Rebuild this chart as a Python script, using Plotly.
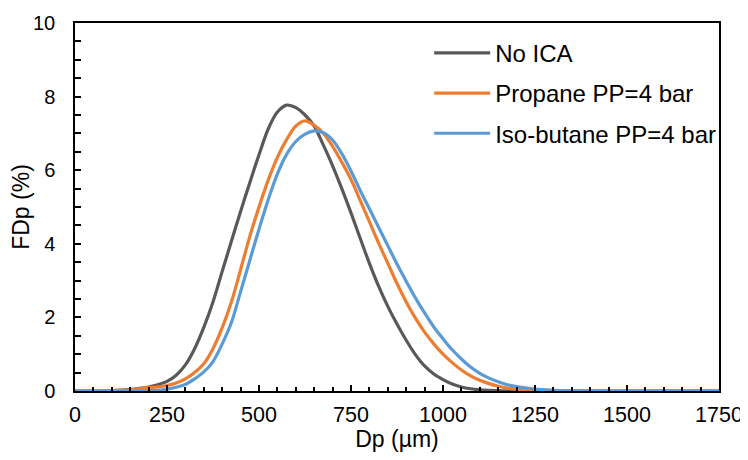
import plotly.graph_objects as go

dp = [0, 50, 100, 150, 175, 200, 225, 250, 275, 300, 325, 350, 375, 400, 425, 450, 475,
      500, 525, 550, 575, 600, 625, 650, 675, 700, 725, 750, 775, 800, 825, 850, 875,
      900, 925, 950, 975, 1000, 1025, 1050, 1075, 1100, 1125, 1150, 1175, 1200, 1250,
      1300, 1350, 1400, 1500, 1600, 1700, 1750]

no_ica = [0, 0, 0.01, 0.04, 0.07, 0.11, 0.17, 0.26, 0.43, 0.71, 1.15, 1.73, 2.42, 3.25,
          4.07, 4.88, 5.66, 6.42, 7.12, 7.58, 7.77, 7.70, 7.5, 7.2, 6.68, 6.12, 5.5, 4.84,
          4.15, 3.47, 2.85, 2.3, 1.82, 1.38, 0.99, 0.68, 0.46, 0.31, 0.19, 0.11, 0.06,
          0.03, 0.015, 0.01, 0.005, 0, 0, 0, 0, 0, 0, 0, 0, 0]

propane = [0, 0, 0.01, 0.03, 0.06, 0.09, 0.11, 0.15, 0.22, 0.33, 0.5, 0.74, 1.15, 1.72,
           2.42, 3.3, 4.2, 5.0, 5.73, 6.35, 6.83, 7.2, 7.34, 7.22, 7.0, 6.65, 6.22, 5.75,
           5.18, 4.6, 4.02, 3.47, 2.92, 2.42, 1.98, 1.6, 1.28, 1.0, 0.77, 0.57, 0.41,
           0.29, 0.2, 0.13, 0.08, 0.05, 0.02, 0.01, 0, 0, 0, 0, 0, 0]

isobutane = [0, 0, 0, 0, 0.005, 0.01, 0.02, 0.05, 0.1, 0.18, 0.33, 0.52, 0.8, 1.28, 1.86,
             2.7, 3.55, 4.4, 5.2, 5.9, 6.43, 6.78, 6.98, 7.07, 7.02, 6.82, 6.45, 5.98,
             5.45, 4.95, 4.45, 3.95, 3.45, 2.98, 2.53, 2.12, 1.74, 1.42, 1.12, 0.87, 0.65,
             0.48, 0.35, 0.25, 0.17, 0.12, 0.05, 0.02, 0.005, 0, 0, 0, 0, 0]

series = [("No ICA", no_ica, "#595959"),
          ("Propane PP=4 bar", propane, "#ED7D31"),
          ("Iso-butane PP=4 bar", isobutane, "#5B9BD5")]

x_ticks = [0, 250, 500, 750, 1000, 1250, 1500, 1750]
y_ticks = [0, 2, 4, 6, 8, 10]

FONT = "Liberation Sans, Arial, sans-serif"

fig = go.Figure()
for i, (name, vals, color) in enumerate(series):
    fig.add_trace(go.Scatter(
        x=dp, y=vals, name=name, mode="lines",
        line=dict(color=color, width=3.2, shape="spline", smoothing=0.9),
        legendgroup=f"g{i}",
    ))

fig.update_layout(
    width=740, height=444,
    margin=dict(l=67, r=29, t=15, b=61),
    paper_bgcolor="white", plot_bgcolor="white",
    font=dict(family=FONT, size=20, color="black"),
    showlegend=True,
    legend=dict(
        x=0.55, y=0.979, xanchor="left", yanchor="top",
        bgcolor="rgba(0,0,0,0)", font=dict(family=FONT, size=24, color="black"),
        tracegroupgap=6, itemwidth=56,
    ),
    xaxis=dict(
        range=[0, 1750], tickvals=x_ticks, ticktext=[str(v) for v in x_ticks],
        automargin=False, ticklabeloverflow="allow",
        showgrid=False, zeroline=False,
        showline=True, linecolor="black", linewidth=1.5, mirror=True,
        ticks="inside", ticklen=6, tickcolor="black", tickwidth=1.5,
        minor=dict(dtick=50, ticks="inside", ticklen=4, tickcolor="black", tickwidth=1.5),
        title=dict(text="Dp (µm)", font=dict(family=FONT, size=23), standoff=3),
        tickfont=dict(family=FONT, size=21.5), ticklabelstandoff=3,
    ),
    yaxis=dict(
        range=[0, 10], tickvals=y_ticks, ticktext=[str(v) for v in y_ticks],
        automargin=False,
        showgrid=False, zeroline=False,
        showline=True, linecolor="black", linewidth=1.5, mirror=True,
        ticks="inside", ticklen=6, tickcolor="black", tickwidth=1.5,
        minor=dict(dtick=0.5, ticks="inside", ticklen=6, tickcolor="black", tickwidth=1.5),
        title=dict(text="FDp (%)", font=dict(family=FONT, size=23), standoff=3),
        tickfont=dict(family=FONT, size=20), ticklabelstandoff=14,
    ),
)

fig.write_html("out.html")
